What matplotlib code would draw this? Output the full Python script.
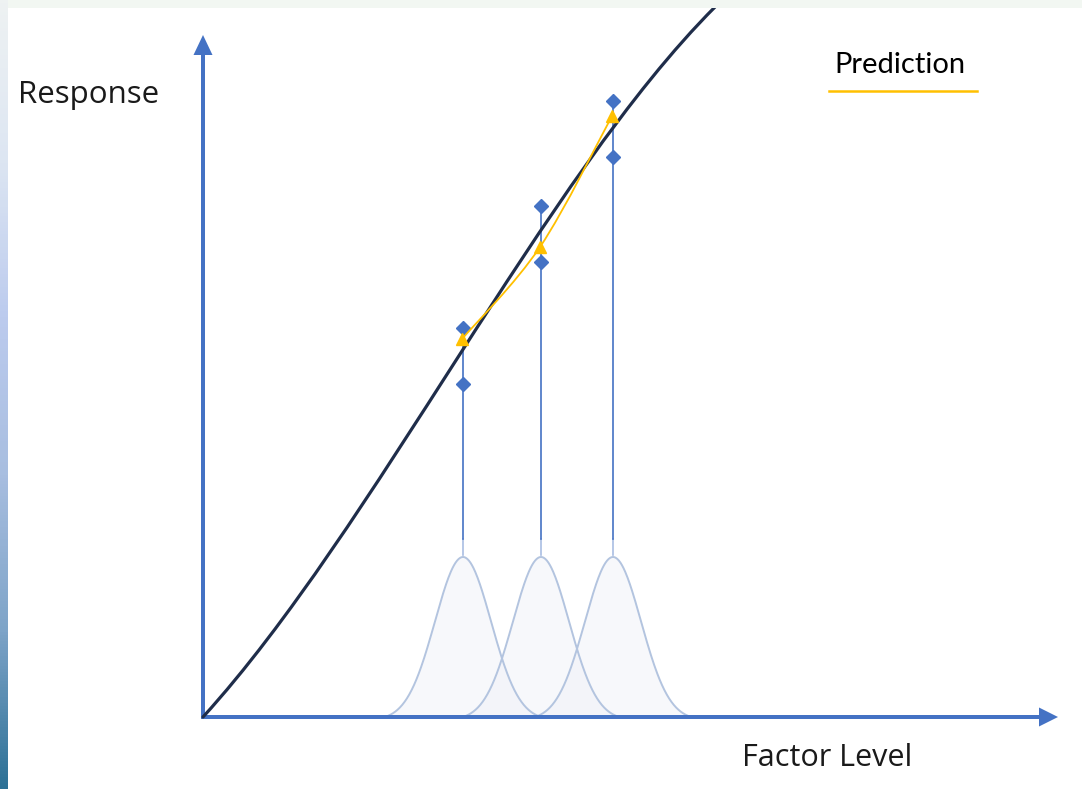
import numpy as np
import matplotlib
matplotlib.use("Agg")
import matplotlib.pyplot as plt
from matplotlib.path import Path
from matplotlib.patches import PathPatch, FancyArrow, Rectangle
from matplotlib.colors import LinearSegmentedColormap

# ---------------- data (units: response / factor level, origin at axis corner) -------------
# true response curve: cubic Bezier (start, control 1, control 2, end)
curve_x = [0, 171, 341, 512]
curve_y = [0, 188, 539, 710]

factor_levels = [260, 338, 410]
obs_high = [389, 511, 616]
obs_low = [333, 455, 560]
pred_x = [259, 337, 409]
pred_y = [378, 470, 601]

bell_peak = 160
bell_sigma = 28
bell_halfwidth = 78

axis_label_y = "Response"
axis_label_x = "Factor Level"
legend_label = "Prediction"

BLUE = "#4472C4"
GOLD = "#FFC000"
NAVY = "#1F2D4A"


def smooth_path(xs, ys):
    pts = np.column_stack([xs, ys]).astype(float)
    ext = np.vstack([pts[0], pts, pts[-1]])
    verts = [pts[0]]
    codes = [Path.MOVETO]
    for i in range(1, len(ext) - 2):
        p0, p1, p2, p3 = ext[i - 1], ext[i], ext[i + 1], ext[i + 2]
        c1 = p1 + (p2 - p0) / 6.0
        c2 = p2 - (p3 - p1) / 6.0
        verts += [c1, c2, p2]
        codes += [Path.CURVE4] * 3
    return Path(verts, codes)


fig = plt.figure(figsize=(10.82, 7.89), dpi=100)
ax = fig.add_axes([0, 0, 1, 1])
ax.set_xlim(-203, 879)
ax.set_ylim(-72, 717)
ax.axis("off")

# background decorations
ax.add_patch(Rectangle((-203, 709), 1082, 8, color="#F2F7F2", lw=0, zorder=10))
grad = LinearSegmentedColormap.from_list(
    "strip", ["#2C7095", "#7EA4C8", "#A8BEE0", "#BCCBEE", "#DDE6F2", "#EEF2F2"])
ax.imshow(np.linspace(0, 1, 256).reshape(-1, 1), cmap=grad, aspect="auto",
          extent=(-203, -195, -72, 717), origin="lower", zorder=11)

# bells (conceptual normal distributions at each factor level)
tail = np.exp(-0.5 * (bell_halfwidth / bell_sigma) ** 2)
for cx in factor_levels:
    bx = np.linspace(cx - bell_halfwidth, cx + bell_halfwidth, 200)
    g = np.exp(-0.5 * ((bx - cx) / bell_sigma) ** 2)
    by = bell_peak * (g - tail) / (1 - tail)
    ax.fill_between(bx, 0, by, color="#EDEFF7", alpha=0.4, lw=0, zorder=1)
    ax.plot(bx, by, color="#B3C4DF", lw=1.4, zorder=2)

# vertical lines from bell peak to observations
for cx, hi in zip(factor_levels, obs_high):
    ax.plot([cx, cx], [bell_peak + 2, 178], color="#A9BDE3", lw=1.2, zorder=3)
    ax.plot([cx, cx], [178, hi], color=BLUE, lw=1.2, zorder=3)

# true response curve (single cubic Bezier)
curve_path = Path(np.column_stack([curve_x, curve_y]),
                  [Path.MOVETO, Path.CURVE4, Path.CURVE4, Path.CURVE4])
ax.add_patch(PathPatch(curve_path, facecolor="none", edgecolor=NAVY, lw=2.3,
                       zorder=5, capstyle="round"))

# observations
ax.plot(factor_levels, obs_high, "D", color=BLUE, ms=7.2, zorder=6, mec=BLUE)
ax.plot(factor_levels, obs_low, "D", color=BLUE, ms=7.2, zorder=6, mec=BLUE)

# prediction
ax.add_patch(PathPatch(smooth_path(pred_x, pred_y), facecolor="none",
                       edgecolor=GOLD, lw=1.3, zorder=7))
ax.plot(pred_x, pred_y, "^", color=GOLD, ms=8, zorder=8)

# axes arrows
ax.add_patch(FancyArrow(0, -2, 0, 684, width=4, head_width=19, head_length=20,
                        length_includes_head=True, color=BLUE, lw=0, zorder=4))
ax.add_patch(FancyArrow(-2, 0, 857, 0, width=4, head_width=19, head_length=19,
                        length_includes_head=True, color=BLUE, lw=0, zorder=4))

# texts
ax.text(-185, 622, axis_label_y, fontsize=22.5, family=["Open Sans", "DejaVu Sans"],
        color="#1a1a1a", va="center", ha="left")
ax.text(539, -41, axis_label_x, fontsize=22, family=["Open Sans", "DejaVu Sans"],
        color="#1a1a1a", va="center", ha="left")
ax.text(631, 652, legend_label, fontsize=21, family=["Lato", "DejaVu Sans"],
        color="black", va="center", ha="left")
ax.plot([626, 774], [626, 626], color=GOLD, lw=1.8, zorder=4)

fig.savefig("out.png", dpi=100)
